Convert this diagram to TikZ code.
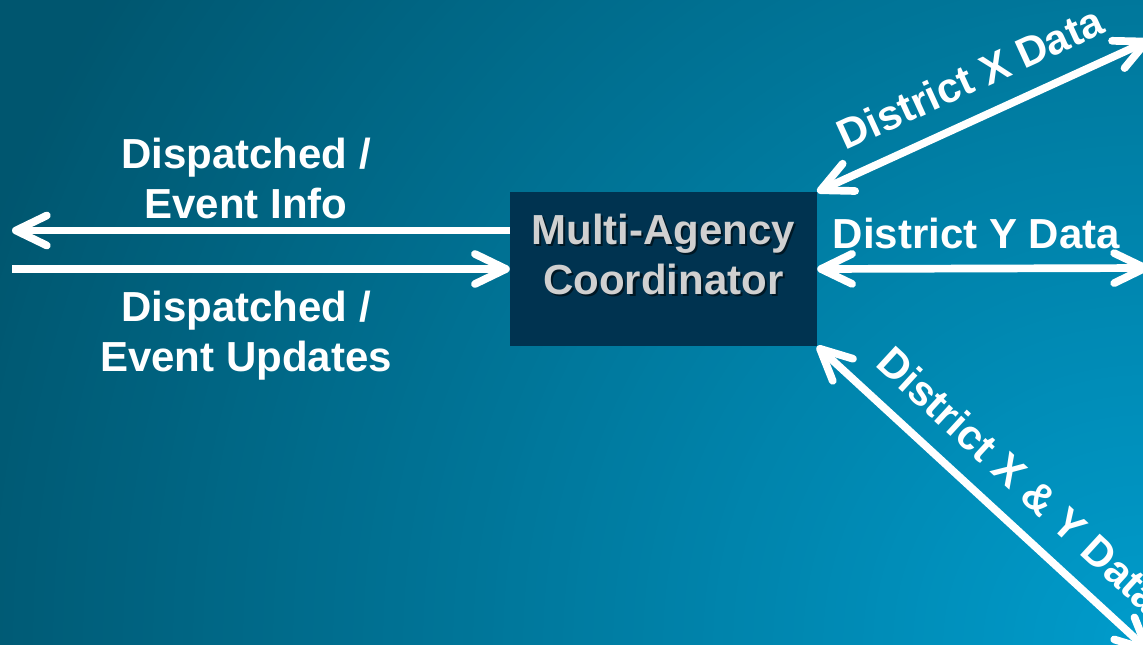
\documentclass[tikz,border=0pt]{standalone}
\usepackage{fontspec}
\setmainfont{Liberation Sans}
\usetikzlibrary{arrows.meta,calc}
\definecolor{boxfill}{HTML}{003350}
\definecolor{boxtext}{HTML}{D0D0D0}
\definecolor{bgA}{HTML}{009CCC}
\definecolor{bgE}{HTML}{00566F}
\newcommand\lblfont{\fontsize{42}{50}\selectfont\bfseries}
\tikzset{
  box/.style={fill=boxfill, draw=none, inner sep=0pt, minimum width=307pt, minimum height=154pt},
  boxtxt/.style={font=\lblfont, align=center, inner sep=0pt, text=boxtext},
  lbl/.style={font=\lblfont, align=center, inner sep=0pt, text=white},
  conn/.style={draw=white, line width=7.7pt},
  tipend/.style={-{Straight Barb[length=31pt,width=30pt,round]}},
  tipboth/.style={{Straight Barb[length=31pt,width=30pt,round]}-{Straight Barb[length=31pt,width=30pt,round]}}
}
\begin{document}
\begin{tikzpicture}[x=1pt,y=-1pt]
\useasboundingbox (0,0) rectangle (1143,645);
\begin{scope}
\clip (0,0) rectangle (1143,645);
\fill[bgE] (0,0) rectangle (1143,645);
\foreach \r in {1230,1220,...,10}{
  \pgfmathsetmacro{\p}{100*(1-\r/1230)}
  \colorlet{ringc}{bgA!\p!bgE}
  \fill[ringc] (1143,645) circle[radius=\r pt];
}
\end{scope}
% central box
\node[box] (mac) at (663.5,269) {};
\node[boxtxt, text=black, opacity=0.55] (macshadow) at (665.5,256.5) {Multi-Agency\\Coordinator};
\node[boxtxt] (mactext) at (663.5,254.5) {Multi-Agency\\Coordinator};
% free ends
\coordinate (leftOut) at (12,230.5);
\coordinate (leftIn) at (12,269);
\coordinate (yR) at (1149,268);
\coordinate (xR) at (1150,40);
\coordinate (xyR) at (1150,652);
% connectors
\draw[conn, tipend] ([yshift=38.5pt]mac.west) -- (leftOut)
  node[lbl, pos=0.53, above=7.5pt] (lblA) {Dispatched /\\Event Info};
\draw[conn, tipend] (leftIn) -- (mac.west)
  node[lbl, pos=0.47, below=18pt] (lblB) {Dispatched /\\Event Updates};
\draw[conn, tipboth] (mac.east) -- (yR)
  node[lbl, pos=0.48, above=16pt] (lblY) {District Y Data};
\draw[conn, tipboth] (mac.north east) -- (xR)
  node[lbl, pos=0.51, above=21pt, sloped] (lblX) {District X Data};
\draw[conn, tipboth] (mac.south east) -- (xyR)
  node[lbl, pos=0.53, above=20pt, sloped] (lblXY) {District X \& Y Data};
\end{tikzpicture}
\end{document}
